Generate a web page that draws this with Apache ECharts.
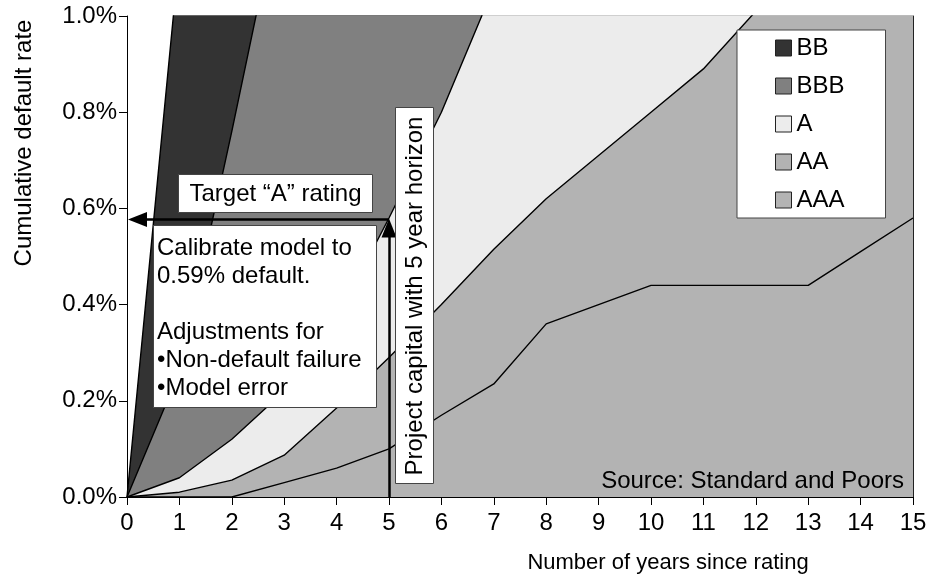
<!DOCTYPE html>
<html>
<head>
<meta charset="utf-8">
<script src="https://cdn.jsdelivr.net/npm/echarts@6/dist/echarts.min.js"></script>
<style>
html,body{margin:0;padding:0;background:#fff;}
#chart{width:930px;height:587px;}
</style>
</head>
<body>
<div id="chart"></div>
<script>
// Years since rating
const years = [0,1,2,3,4,5,6,7,8,9,10,11,12,13,14,15];
// Cumulative default rates (%) (values above 1.0% are clipped by the axis)
const BB  = [0, 1.13, 2.6, 4.4, 6.2, 7.7, 9.2, 10.5, 11.6, 12.6, 13.3, 14.0, 14.5, 15.0, 15.5, 16.0];
const BBB = [0, 0.26, 0.76, 1.28, 1.9, 2.5, 3.0, 3.5, 4.0, 4.5, 5.0, 5.4, 5.7, 6.0, 6.3, 6.6];
const A   = [0, 0.04, 0.12, 0.22, 0.37, 0.58, 0.80, 1.06, 1.3, 1.55, 1.8, 2.0, 2.2, 2.4, 2.6, 2.8];
const AA  = [0, 0.01, 0.035, 0.087, 0.185, 0.29, 0.40, 0.515, 0.62, 0.71, 0.80, 0.89, 1.01, 1.08, 1.15, 1.22];
const AAA = [0, 0, 0, 0.03, 0.06, 0.10, 0.17, 0.235, 0.36, 0.40, 0.44, 0.44, 0.44, 0.44, 0.51, 0.58];
const seriesNames = ['BB','BBB','A','AA','AAA'];
// Annotation values
const horizonYear = 5;
const targetRate = 0.577;

const colors = {BB:'#333333', BBB:'#808080', A:'#ececec', AA:'#b3b3b3', AAA:'#b3b3b3'};
const dataMap = {BB, BBB, A, AA, AAA};
const FONT = 'Liberation Sans, Arial, sans-serif';

const chart = echarts.init(document.getElementById('chart'), null, {renderer:'canvas'});

const series = seriesNames.map((name, i) => ({
  name: name,
  type: 'line',
  data: years.map((x, k) => [x, dataMap[name][k]]),
  showSymbol: false,
  symbol: 'none',
  clip: true,
  lineStyle: {color:'#000', width:1.4},
  itemStyle: {color: colors[name], borderColor:'#222', borderWidth:1},
  areaStyle: {color: colors[name], opacity:1},
  emphasis: {disabled:true},
  silent: true
}));

// Arrows
series.push({
  name: 'arrows',
  type: 'line',
  data: [],
  silent: true,
  markLine: {
    silent: true,
    z: 30,
    animation: false,
    label: {show:false},
    emphasis: {disabled:true},
    lineStyle: {color:'#000', width:2.5, type:'solid'},
    symbolSize: [15, 19],
    data: [
      [{coord:[horizonYear, 0], symbol:'none'}, {coord:[horizonYear, targetRate - 0.018], symbol:'triangle'}],
      [{coord:[horizonYear, targetRate], symbol:'none'}, {coord:[0.2, targetRate], symbol:'triangle'}]
    ]
  }
});

const option = {
  animation: false,
  backgroundColor: '#fff',
  grid: {left:127, right:17, top:16, bottom:90, containLabel:false},
  legend: {
    z: 50,
    data: seriesNames.map(n => ({name:n, icon:'rect'})),
    orient: 'vertical',
    left: 737, top: 30,
    padding: [6, 41, 6, 38],
    itemGap: 14,
    itemWidth: 16, itemHeight: 16,
    backgroundColor: '#fff',
    borderColor: '#444', borderWidth: 1,
    selectedMode: false,
    itemStyle: {borderColor:'#222', borderWidth:1},
    textStyle: {fontFamily: FONT, fontSize: 24, color:'#000'}
  },
  xAxis: {
    type: 'value',
    min: 0, max: 15, interval: 1,
    splitLine: {show:false},
    axisLine: {show:true, onZero:false, lineStyle:{color:'#000', width:1}},
    axisTick: {show:true, inside:false, length:8, lineStyle:{color:'#000'}},
    axisLabel: {fontFamily: FONT, fontSize: 24, color:'#000', margin: 14}
  },
  yAxis: [{
    type: 'value',
    min: 0, max: 1.0, interval: 0.2,
    splitLine: {show:false},
    axisLine: {show:true, lineStyle:{color:'#000', width:1}},
    axisTick: {show:true, inside:false, length:8, lineStyle:{color:'#000'}},
    axisLabel: {fontFamily: FONT, fontSize: 24, color:'#000', margin: 10,
      formatter: v => v.toFixed(1) + '%'}
  },{
    type: 'value', position: 'right',
    min: 0, max: 1.0, interval: 0.2,
    splitLine: {show:false},
    axisLine: {show:true, lineStyle:{color:'#222', width:1}},
    axisTick: {show:false}, axisLabel: {show:false}
  }],
  series: series,
  graphic: [
    {type:'text', z:100, x:24, y:143, rotation:Math.PI/2,
      style:{text:'Cumulative default rate', fontFamily:FONT, fontSize:24, fill:'#000', align:'center', verticalAlign:'middle'}},
    {type:'text', z:100, x:668, y:563,
      style:{text:'Number of years since rating', fontFamily:FONT, fontSize:22, fill:'#000', align:'center', verticalAlign:'middle'}},
    {type:'text', z:100, x:904, y:481,
      style:{text:'Source: Standard and Poors', fontFamily:FONT, fontSize:24, fill:'#000', align:'right', verticalAlign:'middle'}},
    // Target box
    {type:'rect', z:100, shape:{x:178.5, y:174.5, width:194, height:38},
      style:{fill:'#fff', stroke:'#444', lineWidth:1}},
    {type:'text', z:101, x:275.5, y:194,
      style:{text:'Target \u201CA\u201D rating', fontFamily:FONT, fontSize:24, fill:'#000', align:'center', verticalAlign:'middle'}},
    // Calibrate box
    {type:'rect', z:100, shape:{x:153.5, y:225.5, width:223, height:182},
      style:{fill:'#fff', stroke:'#444', lineWidth:1}},
    {type:'text', z:101, x:157, y:234,
      style:{text:'Calibrate model to\n0.59% default.\n\nAdjustments for\n\u2022Non-default failure\n\u2022Model error',
        fontFamily:FONT, fontSize:24, lineHeight:28, fill:'#000', align:'left', verticalAlign:'top'}},
    // Project box
    {type:'rect', z:100, shape:{x:395.5, y:107.5, width:38, height:376},
      style:{fill:'#fff', stroke:'#444', lineWidth:1}},
    {type:'text', z:101, x:415, y:296, rotation:Math.PI/2,
      style:{text:'Project capital with 5 year horizon', fontFamily:FONT, fontSize:24, fill:'#000', align:'center', verticalAlign:'middle'}}
  ]
};
chart.setOption(option);
</script>
</body>
</html>
